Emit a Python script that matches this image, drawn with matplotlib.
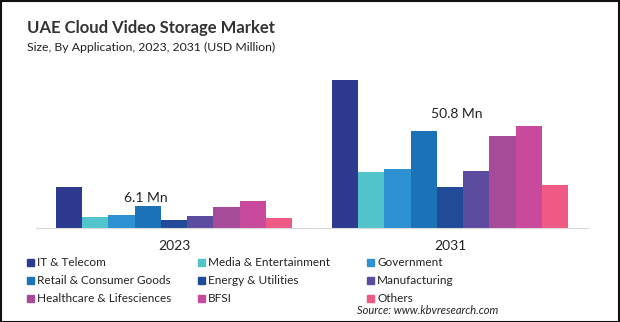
import matplotlib.pyplot as plt
from matplotlib.patches import Rectangle
import numpy as np

plt.rcParams['font.family'] = ['Lato', 'DejaVu Sans']

years = ['2023', '2031']
segments = ['IT & Telecom', 'Media & Entertainment', 'Government',
            'Retail & Consumer Goods', 'Energy & Utilities', 'Manufacturing',
            'Healthcare & Lifesciences', 'BFSI', 'Others']
colors = ['#2e3a8f', '#52c4cc', '#2d91d2', '#1c72b6', '#214b98',
          '#5c4b9e', '#a54b9a', '#c94a9c', '#ef5a85']

# segment sizes per year (relative scale)
values_2023 = [41, 11, 13, 22, 8, 12, 21, 27, 10]
values_2031 = [148, 56, 59, 97, 41, 57, 92, 102, 43]

callouts = ['6.1 Mn', '50.8 Mn']
callout_pos = [(-0.18, 30), (0.93, 114)]

W, H = 620, 322
fig = plt.figure(figsize=(W / 100, H / 100), dpi=100)
ax = fig.add_axes([36 / W, (H - 228) / H, (588 - 36) / W, (228 - 75) / H])

n = len(segments)
bw = 0.855 / n
x = np.arange(len(years))
for i, (seg, col) in enumerate(zip(segments, colors)):
    vals = [values_2023[i], values_2031[i]]
    ax.bar(x - 0.855 / 2 + bw * (i + 0.5), vals, width=bw, color=col, label=seg)

ax.set_xlim(-0.5, 1.5)
ax.set_ylim(0, 153)
for s in ['top', 'right', 'left']:
    ax.spines[s].set_visible(False)
ax.spines['bottom'].set_color('#d9d9d9')
ax.set_yticks([])
ax.set_xticks(x)
ax.set_xticklabels(years, fontsize=10, color='#222222')
ax.tick_params(axis='x', length=0, pad=9)

for txt, (tx, ty) in zip(callouts, callout_pos):
    ax.text(tx, ty, txt, fontsize=10, color='#222222', va='center', ha='left')

fig.text(27 / W, 1 - 28 / H, 'UAE Cloud Video Storage Market', fontsize=12,
         fontweight='bold', color='#333333', va='center')
fig.text(27 / W, 1 - 47 / H, 'Size, By Application, 2023, 2031 (USD Million)',
         fontsize=8.8, color='#222222', va='center')

# legend laid out column by column
col_x = [27, 198, 367]
row_y = [262, 280, 298]
for i, (seg, col) in enumerate(zip(segments, colors)):
    cx = col_x[i % 3]
    cy = row_y[i // 3]
    fig.patches.append(Rectangle((cx / W, 1 - (cy + 3.5) / H), 7 / W, 7 / H,
                                 transform=fig.transFigure, color=col))
    fig.text((cx + 10) / W, 1 - cy / H, seg, fontsize=8.5,
             color='#222222', va='center')

fig.text(498 / W, 1 - 311 / H, 'Source: www.kbvresearch.com', fontsize=8,
         style='italic', color='#222222', ha='right', va='center')

fig.patches.append(Rectangle((0.5 / W, 0.5 / H), 1 - 1.5 / W, 1 - 1.5 / H,
                             transform=fig.transFigure, fill=False,
                             edgecolor='#111111', linewidth=1.5))

fig.savefig('out.png', dpi=100)
